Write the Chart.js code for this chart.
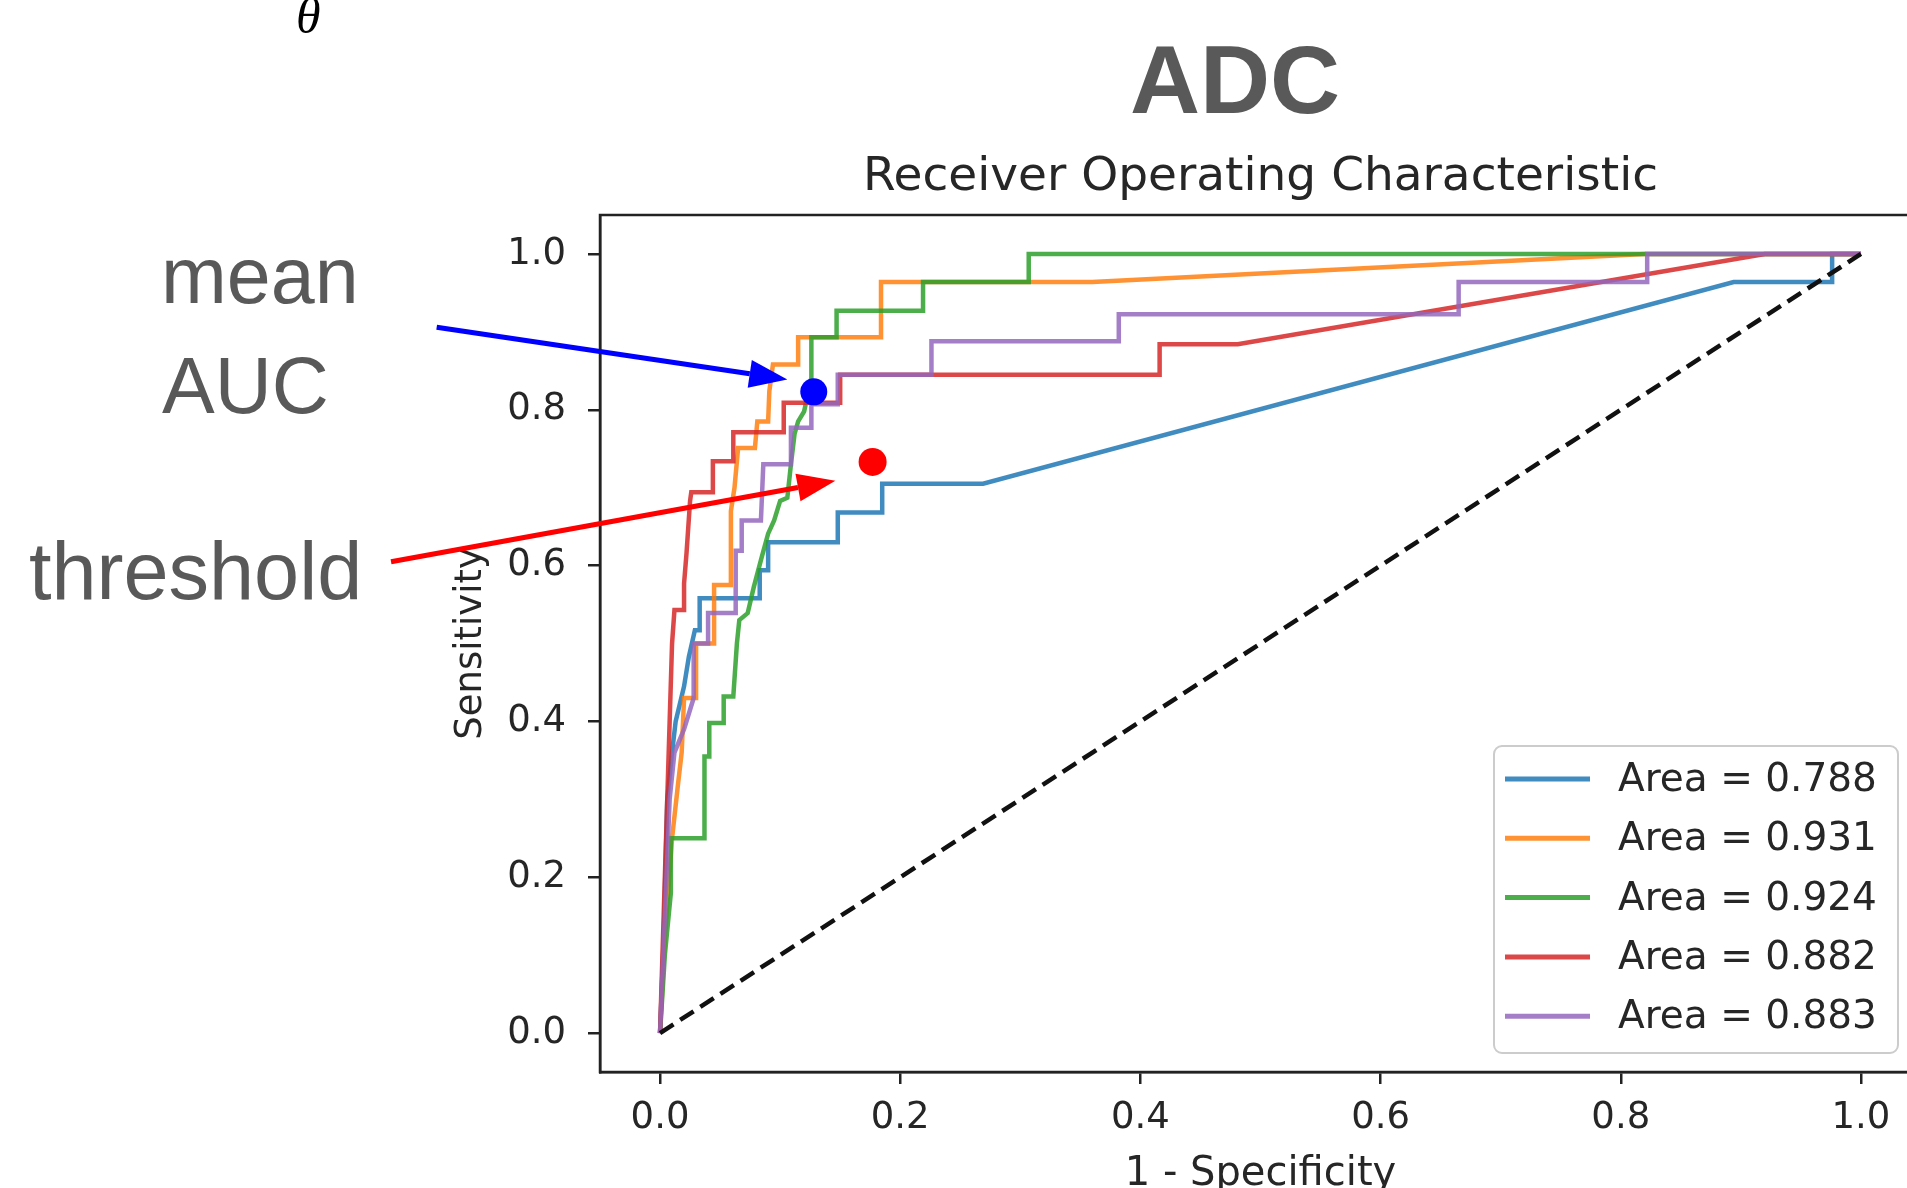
<!DOCTYPE html>
<html>
<head>
<meta charset="utf-8">
<title>ADC - Receiver Operating Characteristic</title>
<script src="https://cdn.jsdelivr.net/npm/chart.js"></script>
<style>
  html, body { margin: 0; padding: 0; background: #fff; overflow: hidden; width: 1907px; height: 1188px; }
  #chartBox { position: absolute; left: 0; top: 0; width: 1960px; height: 1210px; }
  .note { position: absolute; font-family: "Liberation Sans", Arial, sans-serif; color: #595959; line-height: 1; white-space: nowrap; }
</style>
</head>
<body>
<div id="chartBox"><canvas id="rocChart"></canvas></div>
<div class="note" style="left:296px; top:-9px; font-family:'Liberation Serif', serif; font-style:italic; font-size:50px; color:#000;">θ</div>
<div class="note" style="left:1035px; top:31px; width:400px; text-align:center; font-size:97px; font-weight:bold;">ADC</div>
<div class="note" style="left:161px; top:236px; font-size:79px;">mean</div>
<div class="note" style="left:162px; top:346px; font-size:79px;">AUC</div>
<div class="note" style="left:29px; top:531px; font-size:81px;">threshold</div>

<script>
// ROC curves (false positive rate / true positive rate)
const fpr1 = [0, 0.003, 0.006, 0.010, 0.013, 0.020, 0.024, 0.029, 0.033, 0.033, 0.083, 0.083, 0.090, 0.090, 0.148, 0.148, 0.185, 0.185, 0.269, 0.894, 0.976, 0.976, 1.0];
const tpr1 = [0, 0.12, 0.30, 0.36, 0.40, 0.445, 0.483, 0.517, 0.517, 0.558, 0.558, 0.594, 0.594, 0.630, 0.630, 0.668, 0.668, 0.705, 0.705, 0.964, 0.964, 1.0, 1.0];

const fpr2 = [0, 0.004, 0.010, 0.015, 0.018, 0.020, 0.030, 0.030, 0.045, 0.045, 0.059, 0.059, 0.062, 0.065, 0.079, 0.081, 0.090, 0.091, 0.094, 0.115, 0.115, 0.184, 0.184, 0.36, 0.82, 1.0];
const tpr2 = [0, 0.12, 0.25, 0.32, 0.36, 0.43, 0.43, 0.50, 0.50, 0.575, 0.575, 0.67, 0.70, 0.751, 0.751, 0.785, 0.785, 0.824, 0.858, 0.858, 0.893, 0.893, 0.964, 0.964, 1.0, 1.0];

const fpr3 = [0, 0.004, 0.009, 0.009, 0.037, 0.037, 0.041, 0.041, 0.053, 0.053, 0.061, 0.064, 0.066, 0.073, 0.078, 0.084, 0.090, 0.095, 0.100, 0.106, 0.109, 0.112, 0.115, 0.120, 0.126, 0.126, 0.147, 0.147, 0.219, 0.219, 0.307, 0.307, 1.0];
const tpr3 = [0, 0.10, 0.18, 0.25, 0.25, 0.355, 0.355, 0.398, 0.398, 0.432, 0.432, 0.50, 0.53, 0.539, 0.572, 0.607, 0.641, 0.658, 0.683, 0.687, 0.730, 0.769, 0.785, 0.798, 0.841, 0.893, 0.893, 0.927, 0.927, 0.964, 0.964, 1.0, 1.0];

const fpr4 = [0, 0.003, 0.006, 0.008, 0.010, 0.012, 0.020, 0.020, 0.022, 0.025, 0.026, 0.044, 0.044, 0.061, 0.061, 0.103, 0.103, 0.150, 0.150, 0.416, 0.416, 0.481, 0.92, 1.0];
const tpr4 = [0, 0.15, 0.30, 0.40, 0.50, 0.543, 0.543, 0.577, 0.615, 0.683, 0.694, 0.694, 0.734, 0.734, 0.771, 0.771, 0.809, 0.809, 0.845, 0.845, 0.884, 0.884, 1.0, 1.0];

const fpr5 = [0, 0.004, 0.008, 0.012, 0.020, 0.028, 0.028, 0.040, 0.040, 0.063, 0.063, 0.068, 0.068, 0.084, 0.086, 0.109, 0.109, 0.126, 0.126, 0.148, 0.148, 0.226, 0.226, 0.382, 0.382, 0.665, 0.665, 0.822, 0.822, 1.0];
const tpr5 = [0, 0.15, 0.30, 0.36, 0.39, 0.43, 0.50, 0.50, 0.539, 0.539, 0.619, 0.619, 0.658, 0.658, 0.730, 0.730, 0.777, 0.777, 0.807, 0.807, 0.845, 0.845, 0.888, 0.888, 0.9225, 0.9225, 0.964, 0.964, 1.0, 1.0];

const areaLabels = ['Area = 0.788', 'Area = 0.931', 'Area = 0.924', 'Area = 0.882', 'Area = 0.883'];
const chanceX = [0, 1];
const chanceY = [0, 1];

// slide annotations (data coordinates)
const meanAucPoint = [0.128, 0.823];
const thresholdPoint = [0.177, 0.733];
const meanAucArrow = [[-0.186, 0.906], [0.106, 0.839]];
const thresholdArrow = [[-0.224, 0.605], [0.146, 0.709]];

const xTicks = [0, 0.2, 0.4, 0.6, 0.8, 1.0];
const yTicks = [0, 0.2, 0.4, 0.6, 0.8, 1.0];

const curveColors = ['rgba(31,119,180,0.85)', 'rgba(255,127,14,0.85)', 'rgba(44,160,44,0.85)', 'rgba(214,39,40,0.85)', 'rgba(148,103,189,0.85)'];

function toPoints(xs, ys) {
    return xs.map((x, i) => ({ x: x, y: ys[i] }));
}

const curves = [[fpr1, tpr1], [fpr2, tpr2], [fpr3, tpr3], [fpr4, tpr4], [fpr5, tpr5]];

const datasets = curves.map((c, i) => ({
    label: areaLabels[i],
    data: toPoints(c[0], c[1]),
    showLine: true,
    borderColor: curveColors[i],
    backgroundColor: curveColors[i],
    borderWidth: 4.5,
    pointRadius: 0,
    tension: 0,
    order: 10 - i
}));

datasets.push({
    label: 'chance',
    data: toPoints(chanceX, chanceY),
    showLine: true,
    borderColor: '#111',
    borderWidth: 4.5,
    borderDash: [16, 8],
    pointRadius: 0,
    order: 2
});
datasets.push({
    label: 'mean AUC',
    data: [{ x: meanAucPoint[0], y: meanAucPoint[1] }],
    pointRadius: 13.5,
    pointBackgroundColor: '#0000ff',
    pointBorderWidth: 0,
    order: 1
});
datasets.push({
    label: 'threshold',
    data: [{ x: thresholdPoint[0], y: thresholdPoint[1] }],
    pointRadius: 14,
    pointBackgroundColor: '#ff0000',
    pointBorderWidth: 0,
    order: 1
});

// matplotlib-style frame, inside legend and the two arrows
const overlayPlugin = {
    id: 'overlay',
    afterDraw(chart) {
        const ctx = chart.ctx;
        const ca = chart.chartArea;
        const xs = chart.scales.x, ys = chart.scales.y;

        ctx.save();
        ctx.strokeStyle = '#222';
        ctx.lineWidth = 2.5;
        ctx.strokeRect(ca.left, ca.top, ca.right - ca.left, ca.bottom - ca.top);

        // legend, lower right
        const boxW = 404, boxH = 307;
        const bx = ca.right - 23 - boxW, by = ca.bottom - 19 - boxH;
        ctx.beginPath();
        ctx.roundRect(bx, by, boxW, boxH, 8);
        ctx.fillStyle = 'rgba(255,255,255,0.8)';
        ctx.fill();
        ctx.strokeStyle = '#cccccc';
        ctx.lineWidth = 2;
        ctx.stroke();
        ctx.font = '39px "DejaVu Sans"';
        ctx.textBaseline = 'middle';
        ctx.textAlign = 'left';
        areaLabels.forEach((lab, i) => {
            const cy = by + 33 + i * 59.3;
            ctx.strokeStyle = curveColors[i];
            ctx.lineWidth = 5;
            ctx.beginPath();
            ctx.moveTo(bx + 11, cy);
            ctx.lineTo(bx + 96, cy);
            ctx.stroke();
            ctx.fillStyle = '#262626';
            ctx.fillText(lab, bx + 124, cy + 2);
        });

        // arrows
        const drawArrow = (arrow, color) => {
            const x0 = xs.getPixelForValue(arrow[0][0]), y0 = ys.getPixelForValue(arrow[0][1]);
            const x1 = xs.getPixelForValue(arrow[1][0]), y1 = ys.getPixelForValue(arrow[1][1]);
            const ang = Math.atan2(y1 - y0, x1 - x0);
            const headLen = 38, headHalf = 14;
            const bxp = x1 - headLen * Math.cos(ang), byp = y1 - headLen * Math.sin(ang);
            ctx.strokeStyle = color;
            ctx.fillStyle = color;
            ctx.lineWidth = 5;
            ctx.beginPath();
            ctx.moveTo(x0, y0);
            ctx.lineTo(bxp, byp);
            ctx.stroke();
            ctx.beginPath();
            ctx.moveTo(x1, y1);
            ctx.lineTo(bxp + headHalf * Math.sin(ang), byp - headHalf * Math.cos(ang));
            ctx.lineTo(bxp - headHalf * Math.sin(ang), byp + headHalf * Math.cos(ang));
            ctx.closePath();
            ctx.fill();
        };
        drawArrow(meanAucArrow, '#0000ff');
        drawArrow(thresholdArrow, '#ff0000');
        ctx.restore();
    }
};

Chart.defaults.font.family = '"DejaVu Sans", sans-serif';
Chart.defaults.color = '#262626';

const ctx = document.getElementById('rocChart').getContext('2d');
const rocChart = new Chart(ctx, {
    type: 'scatter',
    data: { datasets: datasets },
    options: {
        responsive: true,
        maintainAspectRatio: false,
        animation: false,
        layout: { padding: { left: 449, right: 39, top: 150, bottom: 8 } },
        plugins: {
            legend: { display: false },
            tooltip: { enabled: false },
            title: {
                display: true,
                text: 'Receiver Operating Characteristic',
                fullSize: false,
                color: '#262626',
                font: { size: 47, weight: 'normal' },
                padding: { top: 0, bottom: 8.6 }
            }
        },
        scales: {
            x: {
                type: 'linear',
                min: -0.05,
                max: 1.05,
                afterBuildTicks: s => { s.ticks = xTicks.map(v => ({ value: v })); },
                afterFit: s => { s.height = 130; },
                ticks: { callback: v => Number(v).toFixed(1), font: { size: 37 }, color: '#262626', padding: 12, maxRotation: 0, autoSkip: false },
                grid: { display: true, drawOnChartArea: false, drawTicks: true, tickLength: 12, color: '#222', lineWidth: 2.5 },
                border: { display: true, color: '#222', width: 2.5 },
                title: { display: true, text: '1 - Specificity', color: '#262626', font: { size: 40 }, padding: { top: 0, bottom: 3 } }
            },
            y: {
                type: 'linear',
                min: -0.05,
                max: 1.05,
                afterBuildTicks: s => { s.ticks = yTicks.map(v => ({ value: v })); },
                afterFit: s => { s.width = 151; },
                ticks: { callback: v => Number(v).toFixed(1), font: { size: 37 }, color: '#262626', padding: 22, autoSkip: false },
                grid: { display: true, drawOnChartArea: false, drawTicks: true, tickLength: 12, color: '#222', lineWidth: 2.5 },
                border: { display: true, color: '#222', width: 2.5 },
                title: { display: true, text: 'Sensitivity', color: '#262626', font: { size: 37 }, padding: { top: 0, bottom: 0 } }
            }
        }
    },
    plugins: [overlayPlugin]
});
</script>
</body>
</html>
